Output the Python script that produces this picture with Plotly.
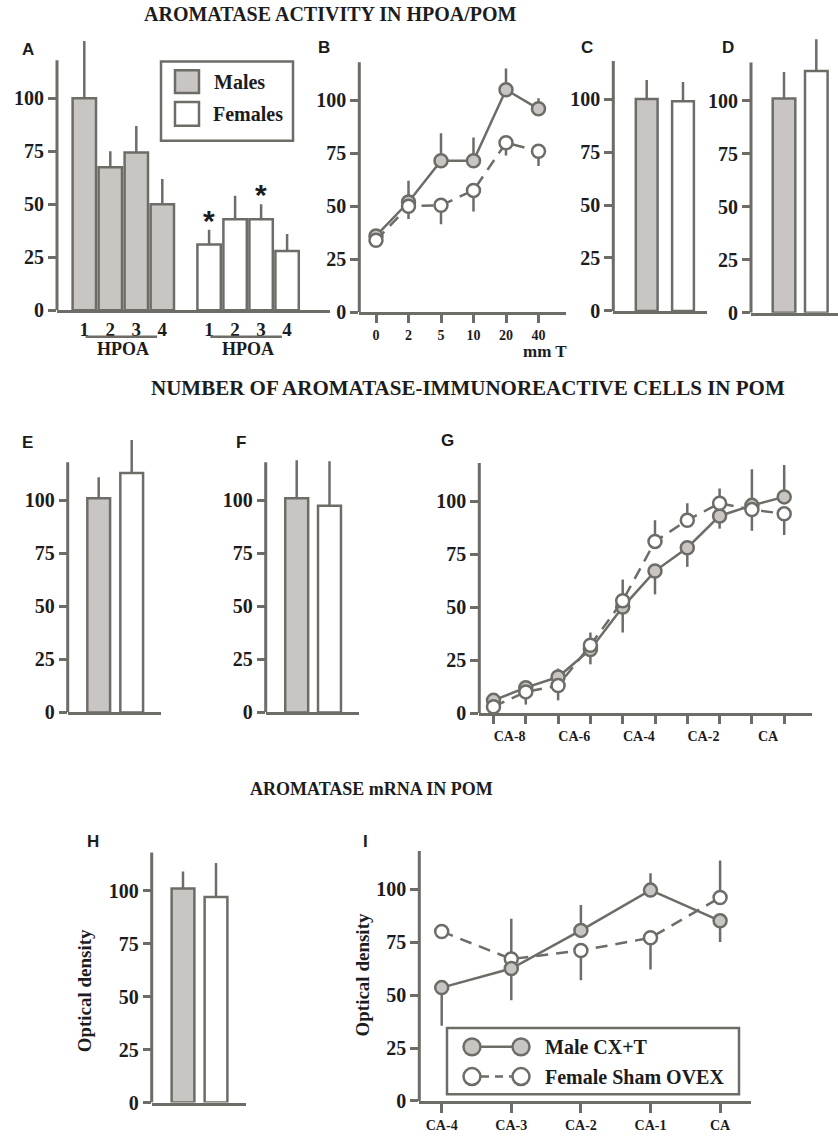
import plotly.graph_objects as go

W, H = 838, 1143

# ---------------- data ----------------
a_labels = ["1", "2", "3", "4"]
a_male = [100, 67.5, 74.5, 50]
a_male_err = [27, 7.5, 12.5, 12]
a_female = [31, 43, 43, 28]
a_female_err = [7, 11, 7, 8]
a_female_sig = [True, False, True, False]

b_dose = ["0", "2", "5", "10", "20", "40"]
b_male = [36, 52, 71.5, 71.5, 105, 96]
b_male_err = [0, 10, 13, 11, 10, 5]
b_female = [34, 50, 50.5, 57.5, 80, 76]
b_female_err = [0, 6, 9, 10, 6, 7]

sexes = ["Males", "Females"]
c_vals = [100, 99]
c_err = [9, 9]
d_vals = [101, 114]
d_err = [12.5, 15]
e_vals = [101, 113]
e_err = [10, 15.5]
f_vals = [101, 97.5]
f_err = [18, 21]
h_vals = [101, 97]
h_err = [8, 16]

g_labels = ["CA-8", "CA-6", "CA-4", "CA-2", "CA"]
g_male = [6, 12, 17, 30, 50, 67, 78, 93, 98, 102]
g_male_up = [0, 0, 4, 0, 0, 0, 0, 0, 17, 15]
g_male_down = [0, 0, 0, 7, 12, 11, 9, 6, 0, 0]
g_female = [3, 10, 13, 32, 53, 81, 91, 99, 96, 94]
g_female_up = [0, 0, 0, 6, 10, 10, 8, 7, 0, 0]
g_female_down = [0, 6, 7, 0, 0, 0, 0, 0, 10, 10]

i_stage = ["CA-4", "CA-3", "CA-2", "CA-1", "CA"]
i_male = [53.5, 62.5, 80.5, 99.5, 85]
i_male_up = [0, 0, 12, 8, 0]
i_male_down = [18, 15, 0, 0, 10]
i_female = [80, 67, 71, 77, 96]
i_female_up = [0, 19, 0, 0, 17.5]
i_female_down = [0, 0, 14, 15, 0]

# ---------------- style ----------------
GRAY = "#6d6c67"
MFILL = "#c8c5c2"
FFILL = "#ffffff"
TXT = "#1c1c1c"
SERIF = "Liberation Serif"
SANS = "Liberation Sans"
K = 2.14          # pixels per y unit
YMAX = 132
YLINE_TOP = 118
LW = 2.5

# pixel geometry of each panel: left/right of x axis, y pixel of zero, first position pixel, spacing
panels = {
    "A": dict(n=1, L=57, R=330, y0=313.3, p0=84.3, s=26, cat=False),
    "B": dict(n=2, L=359.3, R=566, y0=315.3, p0=376, s=32.5, cat=True),
    "C": dict(n=3, L=613.3, R=706.7, y0=314, p0=646.7, s=36.3, cat=True),
    "D": dict(n=4, L=751, R=838, y0=315.7, p0=784, s=32.3, cat=True),
    "E": dict(n=5, L=67.7, R=161, y0=719.3, p0=98.7, s=33, cat=True),
    "F": dict(n=6, L=265.7, R=359, y0=719.3, p0=296.7, s=32.8, cat=True),
    "G": dict(n=7, L=479.3, R=811.7, y0=720, p0=493.5, s=32.3, cat=False),
    "H": dict(n=8, L=151.7, R=245.7, y0=1113.3, p0=183, s=33, cat=True),
    "I": dict(n=9, L=419.3, R=750.7, y0=1111.7, p0=441.7, s=69.6, cat=True),
}


def sfx(n):
    return "" if n == 1 else str(n)


def px(x):
    return x / W


def py(y):
    return 1 - y / H


layout = dict(
    width=W, height=H, margin=dict(l=0, r=0, t=0, b=0),
    paper_bgcolor="white", plot_bgcolor="rgba(0,0,0,0)", showlegend=False,
)
shapes = []
annotations = []

for key, p in panels.items():
    s = sfx(p["n"])
    xa = dict(
        domain=[px(p["L"]), px(p["R"])],
        range=[(p["L"] - p["p0"]) / p["s"], (p["R"] - p["p0"]) / p["s"]],
        showline=True, linecolor=GRAY, linewidth=3, showgrid=False, zeroline=False,
        ticks="", showticklabels=False, anchor="y" + s, fixedrange=True,
    )
    if p["cat"]:
        xa["type"] = "category"
    ya = dict(
        domain=[py(p["y0"]), py(p["y0"] - YMAX * K)], range=[0, YMAX],
        showline=False, showgrid=False, zeroline=False,
        tickmode="array", tickvals=[0, 25, 50, 75, 100],
        ticks="outside", ticklen=8, tickwidth=3, tickcolor=GRAY,
        tickfont=dict(family=SERIF, size=20, color=TXT, weight="bold"),
        anchor="x" + s, fixedrange=True,
    )
    layout["xaxis" + s] = xa
    layout["yaxis" + s] = ya
    shapes.append(dict(type="line", xref=f"x{s} domain", yref=f"y{s}", x0=0, x1=0,
                       y0=0, y1=YLINE_TOP, line=dict(color=GRAY, width=3)))

fig = go.Figure()


def err(up, down=None):
    return dict(type="data", symmetric=False, array=up,
                arrayminus=down if down is not None else [0] * len(up),
                thickness=LW, width=0, color=GRAY)


def bar(n, x, y, e, colors, width):
    s = sfx(n)
    fig.add_trace(go.Bar(x=x, y=y, width=width, error_y=err(e),
                         marker=dict(color=colors, line=dict(color=GRAY, width=LW)),
                         xaxis="x" + s, yaxis="y" + s, showlegend=False, hoverinfo="skip"))


def line(n, x, y, up, down, fill, dash):
    s = sfx(n)
    fig.add_trace(go.Scatter(x=x, y=y, mode="lines+markers", error_y=err(up, down),
                             line=dict(color=GRAY, width=LW, dash=dash),
                             marker=dict(size=13, color=fill, line=dict(color=GRAY, width=LW)),
                             xaxis="x" + s, yaxis="y" + s, showlegend=False, hoverinfo="skip"))


# ---- A ----
a_pos_m = [0, 1, 2, 3]
a_pos_f = [4.8, 5.8, 6.8, 7.8]
bar(1, a_pos_m, a_male, a_male_err, MFILL, 0.9)
bar(1, a_pos_f, a_female, a_female_err, FFILL, 0.9)
layout["xaxis"].update(showticklabels=True, tickmode="array", tickvals=a_pos_m + a_pos_f,
                       ticktext=a_labels * 2,
                       tickfont=dict(family=SERIF, size=19, color=TXT, weight="bold"))
for pos, v, e, sig in zip(a_pos_f, a_female, a_female_err, a_female_sig):
    if sig:
        annotations.append(dict(x=pos, y=v + e, xref="x", yref="y", text="*", showarrow=False,
                                yanchor="bottom", yshift=-9,
                                font=dict(family=SANS, size=30, color=TXT, weight="bold")))
for group in (a_pos_m, a_pos_f):
    shapes.append(dict(type="line", xref="x", yref="paper", x0=group[0] + 0.05, x1=group[-1] - 0.2,
                       y0=py(340), y1=py(340), line=dict(color=GRAY, width=LW)))
    annotations.append(dict(x=(group[0] + group[-1]) / 2, y=py(352), xref="x", yref="paper",
                            text="HPOA", showarrow=False, xanchor="center", yanchor="middle",
                            font=dict(family=SERIF, size=18, color=TXT, weight="bold")))

# ---- B ----
line(2, b_dose, b_male, b_male_err, [0] * len(b_male), MFILL, "solid")
line(2, b_dose, b_female, [0] * len(b_female), b_female_err, FFILL, "12px,8px")
layout["xaxis2"].update(showticklabels=True, ticks="outside", ticklen=8, tickwidth=3, tickcolor=GRAY,
                        tickfont=dict(family=SERIF, size=14, color=TXT, weight="bold"))

# ---- C, D, E, F, H ----
for n, vals, e in ((3, c_vals, c_err), (4, d_vals, d_err), (5, e_vals, e_err),
                   (6, f_vals, f_err), (8, h_vals, h_err)):
    wd = {3: 0.6, 4: 0.7, 5: 0.69, 6: 0.7, 8: 0.69}[n]
    bar(n, sexes, vals, e, [MFILL, FFILL], wd)

# ---- G ----
g_x = list(range(len(g_male)))
line(7, g_x, g_male, g_male_up, g_male_down, MFILL, "solid")
line(7, g_x, g_female, g_female_up, g_female_down, FFILL, "12px,8px")
layout["xaxis7"].update(showticklabels=True, tickmode="array",
                        tickvals=[2 * i + 0.5 for i in range(len(g_labels))], ticktext=g_labels,
                        ticks="outside", ticklen=8, tickwidth=3, tickcolor="rgba(0,0,0,0)",
                        tickfont=dict(family=SERIF, size=14, color=TXT, weight="bold"),
                        minor=dict(tickmode="linear", tick0=0, dtick=1, ticks="outside", ticklen=8,
                                   tickwidth=3, tickcolor=GRAY, showgrid=False))

# ---- I ----
line(9, i_stage, i_female, i_female_up, i_female_down, FFILL, "12px,8px")
line(9, i_stage, i_male, i_male_up, i_male_down, MFILL, "solid")
layout["xaxis9"].update(showticklabels=True, ticks="outside", ticklen=9, tickwidth=3, tickcolor=GRAY,
                        tickfont=dict(family=SERIF, size=14, color=TXT, weight="bold"))


# ---------------- text ----------------
def text(t, x, y, size, family=SERIF, angle=0, xanchor="center"):
    annotations.append(dict(text=t, x=px(x), y=py(y), xref="paper", yref="paper", showarrow=False,
                            xanchor=xanchor, yanchor="middle", textangle=angle,
                            font=dict(family=family, size=size, color=TXT, weight="bold")))


text("AROMATASE ACTIVITY IN HPOA/POM", 330, 14, 20)
text("NUMBER OF AROMATASE-IMMUNOREACTIVE CELLS IN POM", 468, 392, 21)
text("AROMATASE mRNA IN POM", 371, 797, 18)

for letter, (x, y) in {"A": (28, 50), "B": (324, 48), "C": (587, 48), "D": (728, 48),
                       "E": (27, 447), "F": (241, 447), "G": (447, 445),
                       "H": (93, 850), "I": (365, 850)}.items():
    text(letter, x, y, 17, family=SANS)

text("mm T", 545, 355, 17)
text("Optical density", 84, 1001, 19, angle=-90)
text("Optical density", 363, 985, 19, angle=-90)


# ---------------- legends ----------------
def rect(x0, y0, x1, y1, fill="rgba(0,0,0,0)"):
    shapes.append(dict(type="rect", xref="paper", yref="paper", x0=px(x0), x1=px(x1),
                       y0=py(y1), y1=py(y0), fillcolor=fill, line=dict(color=GRAY, width=LW)))


def circ(cx, cy, d, fill):
    shapes.append(dict(type="circle", xref="paper", yref="paper", x0=px(cx - d / 2), x1=px(cx + d / 2),
                       y0=py(cy + d / 2), y1=py(cy - d / 2), fillcolor=fill,
                       line=dict(color=GRAY, width=LW)))


def seg(x0, x1, y, dash="solid"):
    shapes.append(dict(type="line", xref="paper", yref="paper", x0=px(x0), x1=px(x1),
                       y0=py(y), y1=py(y), line=dict(color=GRAY, width=LW, dash=dash)))


# legend A
rect(161, 62, 293, 142)
rect(175, 71, 199, 94, MFILL)
rect(175, 103, 199, 127, FFILL)
text("Males", 212, 83, 20, xanchor="left")
text("Females", 211, 115, 20, xanchor="left")

# legend I
rect(447, 1038, 739, 1105, "white")
seg(472, 521, 1057)
circ(472, 1057, 17, MFILL)
circ(521, 1057, 17, MFILL)
seg(481, 512, 1087, "8px,6px")
circ(472, 1087, 17, FFILL)
circ(521, 1087, 17, FFILL)
text("Male CX+T", 543, 1057, 20, xanchor="left")
text("Female Sham OVEX", 543, 1087, 20, xanchor="left")

layout["shapes"] = shapes
layout["annotations"] = annotations
fig.update_layout(**layout)
fig.write_html("out.html", config={"displayModeBar": False},
               post_script="document.body.style.margin='0px';document.body.style.padding='0px';")
